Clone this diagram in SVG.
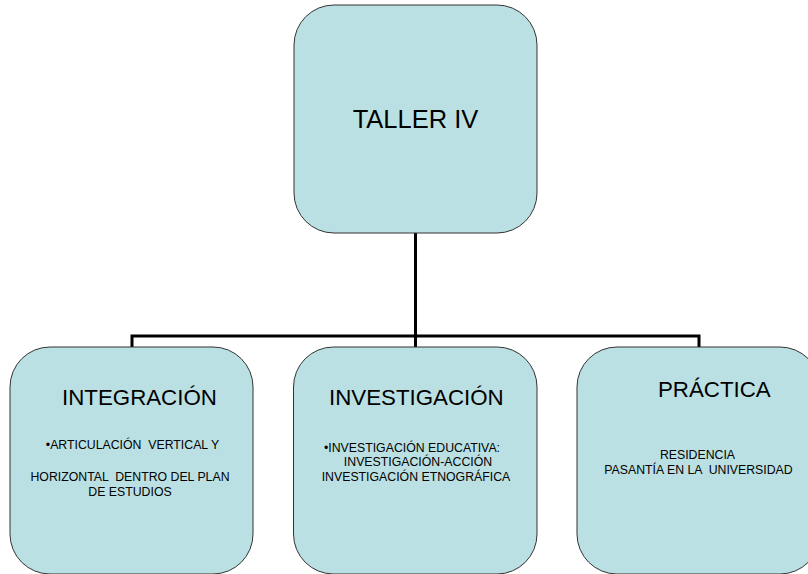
<svg xmlns="http://www.w3.org/2000/svg" width="808" height="574" viewBox="0 0 808 574">
<style>
.box{fill:#BBE0E3;stroke:#333;stroke-width:1}
.conn{fill:none;stroke:#000;stroke-width:3}
text{font-family:"Liberation Sans",Arial,sans-serif;fill:#000;white-space:pre}
.big{font-size:22.3px}
.title{font-size:25.5px}
.small{font-size:12.3px;text-anchor:middle}
</style>
<rect width="808" height="574" fill="#fff"/>
<g id="connectors">
<path class="conn" d="M415.5 233 V336 M130.5 336 H700.5 M132 336 V347 M415.5 336 V347 M699 336 V347"/>
</g>
<g id="taller">
<rect class="box" x="294" y="5" width="243" height="228" rx="40" ry="40"/>
<text class="title" x="415.5" y="128" text-anchor="middle">TALLER IV</text>
</g>
<g id="integracion">
<rect class="box" x="10" y="347" width="243" height="227" rx="40" ry="40"/>
<text class="big" x="62" y="405">INTEGRACIÓN</text>
<text class="small" x="132.5" y="449">•ARTICULACIÓN  VERTICAL Y</text>
<text class="small" x="130" y="481">HORIZONTAL  DENTRO DEL PLAN</text>
<text class="small" x="130" y="496">DE ESTUDIOS</text>
</g>
<g id="investigacion">
<rect class="box" x="293.5" y="347" width="243.5" height="227" rx="40" ry="40"/>
<text class="big" x="329" y="405">INVESTIGACIÓN</text>
<text class="small" x="412" y="452">•INVESTIGACIÓN EDUCATIVA:</text>
<text class="small" x="418" y="466">INVESTIGACIÓN-ACCIÓN</text>
<text class="small" x="416" y="481">INVESTIGACIÓN ETNOGRÁFICA</text>
</g>
<g id="practica">
<rect class="box" x="577" y="347" width="243" height="227" rx="40" ry="40"/>
<text class="big" x="658" y="397">PRÁCTICA</text>
<text class="small" x="697.5" y="459">RESIDENCIA</text>
<text class="small" x="698.5" y="474">PASANTÍA EN LA  UNIVERSIDAD</text>
</g>
</svg>
